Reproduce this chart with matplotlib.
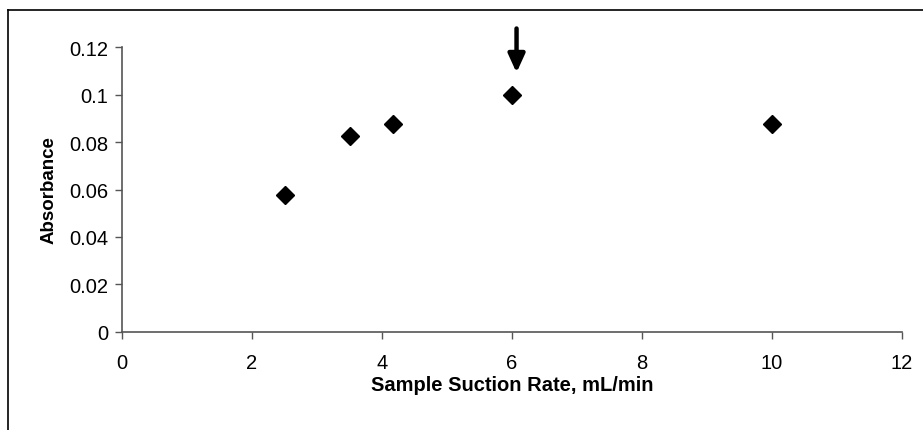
import matplotlib
matplotlib.use("Agg")
import matplotlib.pyplot as plt
from matplotlib.lines import Line2D

plt.rcParams.update({
    "font.family": "sans-serif",
    "font.sans-serif": ["Liberation Sans", "Arial", "DejaVu Sans"],
})

# suction rate (mL/min) vs absorbance
rate = [2.5, 3.5, 4.17, 6.0, 10.0]
absorbance = [0.0575, 0.0825, 0.0875, 0.1, 0.0875]
xticks = [0, 2, 4, 6, 8, 10, 12]
yticks = [0, 0.02, 0.04, 0.06, 0.08, 0.1, 0.12]
ytick_labels = ["0", "0.02", "0.04", "0.06", "0.08", "0.1", "0.12"]
arrow_x = 6.07

fig = plt.figure(figsize=(9.23, 4.31), dpi=100)
ax = fig.add_axes([0.1322, 0.2274, 0.845, 0.6612])

ax.plot(rate, absorbance, linestyle="none", marker="D", markersize=9.5,
        color="black", clip_on=False)

ax.set_xlim(0, 12)
ax.set_ylim(0, 0.12)
ax.set_xticks(xticks)
ax.set_xticklabels([str(t) for t in xticks])
ax.set_yticks(yticks)
ax.set_yticklabels(ytick_labels)
ax.tick_params(direction="out", length=5, width=1, color="#555",
               labelsize=14.5, pad=5)
ax.tick_params(axis="x", pad=10)

for s in ("top", "right"):
    ax.spines[s].set_visible(False)
for s in ("left", "bottom"):
    ax.spines[s].set_color("#555")
    ax.spines[s].set_linewidth(1.2)

ax.set_xlabel("Sample Suction Rate, mL/min", fontsize=14.5, fontweight="bold",
              labelpad=2)
ax.set_ylabel("Absorbance", fontsize=13.5, fontweight="bold", labelpad=8)

# arrow pointing at the chosen rate
ax.annotate("", xy=(arrow_x, 0.1092), xytext=(arrow_x, 0.1278),
            arrowprops=dict(arrowstyle="-|>,head_length=1.1,head_width=0.5",
                            color="black", lw=3.2, mutation_scale=10,
                            shrinkA=0, shrinkB=0),
            annotation_clip=False)

# chart area border (top and left edges)
fig.add_artist(Line2D([8 / 923, 8 / 923], [0, 1 - 11 / 431],
                      transform=fig.transFigure, color="black", lw=1.2))
fig.add_artist(Line2D([8 / 923, 1], [1 - 11 / 431, 1 - 11 / 431],
                      transform=fig.transFigure, color="black", lw=1.2))

fig.savefig("out.png", dpi=100)
